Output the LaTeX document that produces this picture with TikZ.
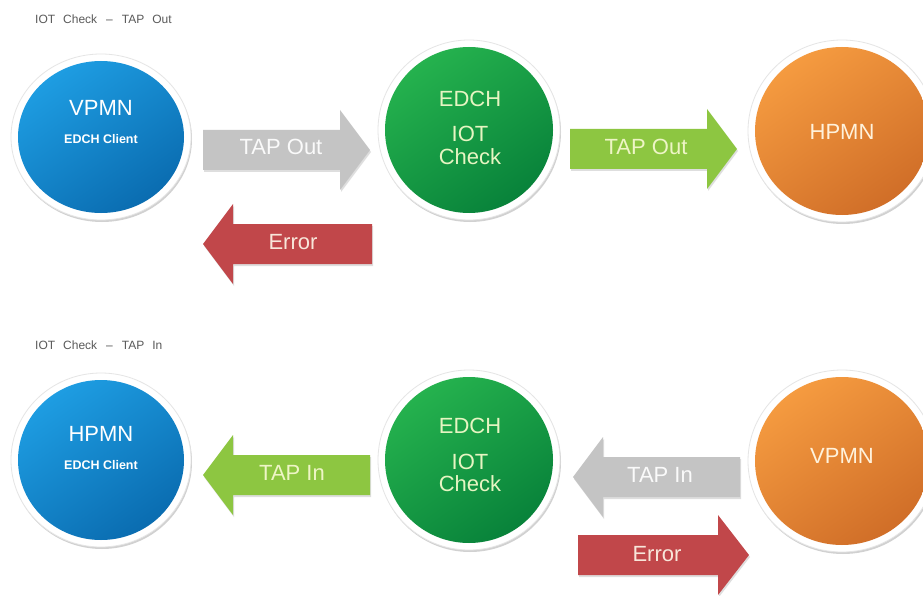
\documentclass[tikz,border=0pt]{standalone}
\usepackage{fontspec}
\setmainfont{Liberation Sans}
\usetikzlibrary{shapes.geometric,shadows}
\definecolor{bluelt}{HTML}{1E9DE2}
\definecolor{bluedk}{HTML}{0A6CB0}
\definecolor{grnlt}{HTML}{25B24E}
\definecolor{grndk}{HTML}{08823A}
\definecolor{orglt}{HTML}{F59B40}
\definecolor{orgdk}{HTML}{D06E28}
\definecolor{arrgray}{HTML}{C4C4C4}
\definecolor{arrgreen}{HTML}{8DC641}
\definecolor{arrred}{HTML}{C1474A}
\definecolor{txtgrn}{HTML}{E6F5C2}
\definecolor{txtagrn}{HTML}{EEF5C6}
\definecolor{txtred}{HTML}{F8E6DA}
\definecolor{txtorg}{HTML}{FFF2DC}
\definecolor{titlegray}{HTML}{5A5A5A}
\newcommand{\blockRight}[5]{%
  \fill[black,opacity=0.13] (#1+1,#4-20+2) -- (#2+1,#4-20+2) -- (#2+1,#4-40+2) -- (#3+1,#4+2) -- (#2+1,#4+40+2) -- (#2+1,#4+20+2) -- (#1+1,#4+20+2) -- cycle;
  \fill[#5] (#1,#4-20) -- (#2,#4-20) -- (#2,#4-40) -- (#3,#4) -- (#2,#4+40) -- (#2,#4+20) -- (#1,#4+20) -- cycle;}
\newcommand{\blockLeft}[5]{%
  \fill[black,opacity=0.13] (#1+1,#4+2) -- (#2+1,#4-40+2) -- (#2+1,#4-20+2) -- (#3+1,#4-20+2) -- (#3+1,#4+20+2) -- (#2+1,#4+20+2) -- (#2+1,#4+40+2) -- cycle;
  \fill[#5] (#1,#4) -- (#2,#4-40) -- (#2,#4-20) -- (#3,#4-20) -- (#3,#4+20) -- (#2,#4+20) -- (#2,#4+40) -- cycle;}
\tikzset{
  ring/.style={ellipse, fill=white, draw=black!10, line width=0.8pt, inner sep=0pt,
    drop shadow={shadow xshift=1pt, shadow yshift=-2pt, opacity=0.18, fill=black}},
  big/.style={font=\fontsize{22}{24}\selectfont, inner sep=0pt, anchor=center},
  small/.style={font=\fontsize{12.5}{14}\selectfont\bfseries, inner sep=0pt, anchor=center, text=white},
  title/.style={font=\fontsize{12}{14}\selectfont, text=titlegray, inner sep=0pt, anchor=west}
}
\begin{document}
\begin{tikzpicture}[x=1pt,y=-1pt]
\useasboundingbox (0,0) rectangle (923,596);
\fill[white] (0,0) rectangle (923,596);

% titles
\node[title] (t1) at (35,19) {IOT\hspace{8pt}Check\hspace{9pt}–\hspace{9pt}TAP\hspace{8pt}Out};
\node[title] (t2) at (35,345) {IOT\hspace{8pt}Check\hspace{9pt}–\hspace{9pt}TAP\hspace{8pt}In};

% ---------- top row circles ----------
\node[ring, minimum width=180pt, minimum height=166pt] (vpmnA) at (101,137) {};
\shade[top color=bluelt, bottom color=bluedk, shading angle=35] (vpmnA.center) ellipse [x radius=83, y radius=76];
\node[big, text=white] (vpmnAt) at (101,108) {VPMN};
\node[small] (vpmnAs) at (101,139) {EDCH Client};

\node[ring, minimum width=182pt, minimum height=180pt] (edchA) at (469,130) {};
\shade[top color=grnlt, bottom color=grndk, shading angle=35] (edchA.center) ellipse [x radius=84, y radius=83];
\node[big, text=txtgrn] (edchAt) at (470,99) {EDCH};
\node[big, text=txtgrn] (edchAi) at (470,134) {IOT};
\node[big, text=txtgrn] (edchAc) at (470,157) {Check};

\node[ring, minimum width=188pt, minimum height=182pt] (hpmnA) at (842,131) {};
\shade[top color=orglt, bottom color=orgdk, shading angle=35] (hpmnA.center) ellipse [x radius=87, y radius=84];
\node[big, text=txtorg] (hpmnAt) at (842,132) {HPMN};

% ---------- top row arrows ----------
\blockRight{203}{340}{370}{150}{arrgray}
\node[big, text=white!96!gray] (tapoutA) at (281,147) {TAP Out};
\blockLeft{203}{233}{372}{244}{arrred}
\node[big, text=txtred] (errA) at (293,242) {Error};
\blockRight{570}{707}{737}{149}{arrgreen}
\node[big, text=txtagrn] (tapoutB) at (646,147) {TAP Out};

% ---------- bottom row circles ----------
\node[ring, minimum width=180pt, minimum height=174pt] (hpmnB) at (101,460) {};
\shade[top color=bluelt, bottom color=bluedk, shading angle=35] (hpmnB.center) ellipse [x radius=83, y radius=80];
\node[big, text=white] (hpmnBt) at (101,434) {HPMN};
\node[small] (hpmnBs) at (101,465) {EDCH Client};

\node[ring, minimum width=182pt, minimum height=180pt] (edchB) at (469,460) {};
\shade[top color=grnlt, bottom color=grndk, shading angle=35] (edchB.center) ellipse [x radius=84, y radius=83];
\node[big, text=txtgrn] (edchBt) at (470,426) {EDCH};
\node[big, text=txtgrn] (edchBi) at (470,462) {IOT};
\node[big, text=txtgrn] (edchBc) at (470,484) {Check};

\node[ring, minimum width=188pt, minimum height=182pt] (vpmnB) at (842,461) {};
\shade[top color=orglt, bottom color=orgdk, shading angle=35] (vpmnB.center) ellipse [x radius=87, y radius=84];
\node[big, text=txtorg] (vpmnBt) at (842,456) {VPMN};

% ---------- bottom row arrows ----------
\blockLeft{203}{233}{370}{475}{arrgreen}
\node[big, text=txtagrn] (tapinA) at (292,473) {TAP In};
\blockLeft{573}{603}{740}{477}{arrgray}
\node[big, text=white!96!gray] (tapinB) at (660,475) {TAP In};
\blockRight{578}{718}{749}{555}{arrred}
\node[big, text=txtred] (errB) at (657,554) {Error};
\end{tikzpicture}
\end{document}
